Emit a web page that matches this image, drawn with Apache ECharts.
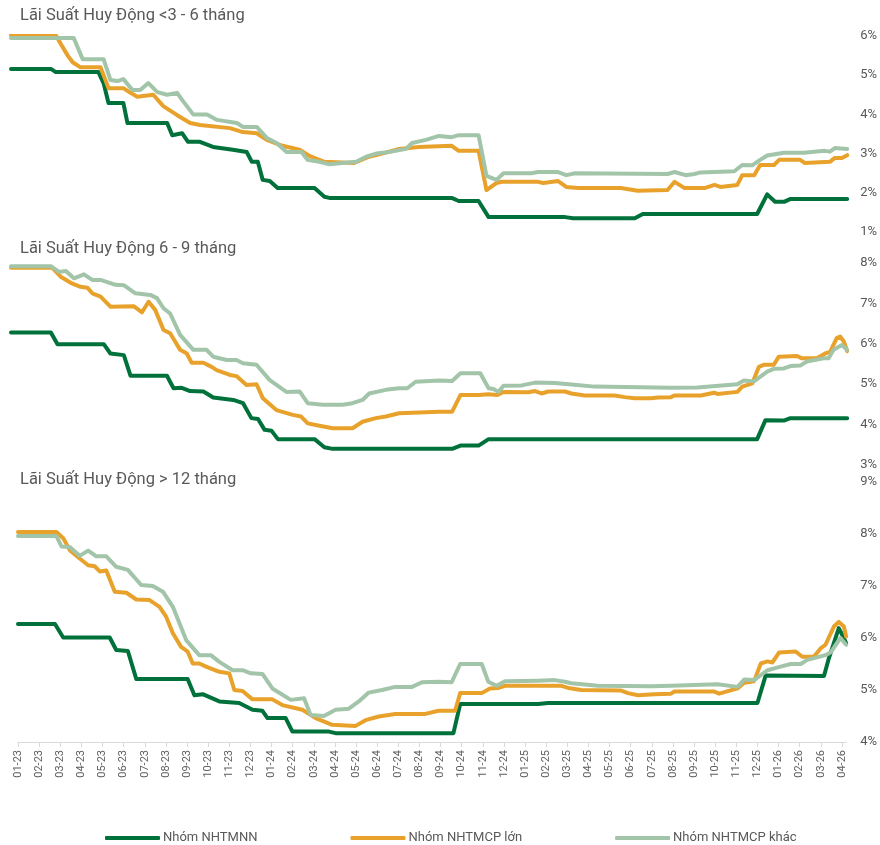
<!DOCTYPE html>
<html>
<head>
<meta charset="utf-8">
<script src="https://cdn.jsdelivr.net/npm/echarts@6/dist/echarts.min.js"></script>
<style>
  html, body { margin: 0; padding: 0; background: #ffffff; }
  #chart { width: 880px; height: 845px; }
</style>
</head>
<body>
<div id="chart"></div>
<script>
// Month tick labels (MM-YY); x positions are months since 01-23
const monthLabels = [
  '01-23','02-23','03-23','04-23','05-23','06-23','07-23','08-23','09-23','10-23','11-23','12-23',
  '01-24','02-24','03-24','04-24','05-24','06-24','07-24','08-24','09-24','10-24','11-24','12-24',
  '01-25','02-25','03-25','04-25','05-25','06-25','07-25','08-25','09-25','10-25','11-25','12-25',
  '01-26','02-26','03-26','04-26'
];

const seriesNames = ['Nhóm NHTMNN', 'Nhóm NHTMCP lớn', 'Nhóm NHTMCP khác'];

const panelTitles = [
  'Lãi Suất Huy Động <3 - 6 tháng',
  'Lãi Suất Huy Động 6 - 9 tháng',
  'Lãi Suất Huy Động > 12 tháng'
];

// ---- Kỳ hạn <3 - 6 tháng: [month, rate %]
const short_nn = [[0,5.16],[1.87,5.16],[2.10,5.08],[4.10,5.08],[4.34,4.80],[4.57,4.29],[5.27,4.29],[5.46,3.78],[7.32,3.78],[7.56,3.47],[8.02,3.52],[8.30,3.30],[8.86,3.30],[9.47,3.17],[10.40,3.10],[11.05,3.04],[11.29,2.79],[11.57,2.79],[11.80,2.33],[12.13,2.30],[12.50,2.12],[14.23,2.12],[14.69,1.90],[14.93,1.87],[20.66,1.87],[20.99,1.79],[21.92,1.79],[22.39,1.38],[25.98,1.38],[26.35,1.35],[29.24,1.35],[29.62,1.46],[34.98,1.46],[35.45,1.96],[35.82,1.77],[36.24,1.77],[36.52,1.84],[39.2,1.84]];
const short_lon = [[0,6.02],[2.10,6.02],[2.33,5.80],[2.66,5.50],[2.89,5.33],[3.26,5.20],[4.20,5.20],[4.57,4.67],[5.27,4.67],[5.60,4.55],[5.92,4.45],[6.67,4.50],[7.14,4.21],[7.79,3.98],[8.40,3.78],[8.86,3.73],[10.26,3.65],[10.87,3.55],[11.52,3.52],[11.99,3.35],[12.73,3.20],[13.53,3.10],[13.99,2.94],[14.69,2.79],[16.09,2.76],[16.79,2.92],[17.40,3.00],[18.19,3.12],[19.12,3.17],[20.66,3.20],[20.99,3.07],[21.92,3.07],[22.29,2.07],[22.76,2.25],[23.00,2.28],[24.72,2.28],[24.95,2.25],[25.65,2.30],[26.03,2.15],[26.59,2.12],[28.59,2.12],[29.38,2.05],[30.78,2.07],[31.11,2.28],[31.58,2.12],[32.51,2.12],[32.98,2.20],[33.26,2.15],[34.05,2.20],[34.28,2.45],[34.84,2.45],[35.12,2.71],[35.77,2.71],[36.01,2.84],[36.99,2.84],[37.22,2.76],[38.39,2.79],[38.62,2.89],[38.95,2.89],[39.2,2.96]];
const short_khac = [[0,5.95],[2.94,5.95],[3.36,5.41],[4.34,5.41],[4.66,4.88],[4.99,4.85],[5.27,4.90],[5.69,4.62],[6.06,4.62],[6.44,4.80],[6.86,4.57],[7.32,4.50],[7.79,4.55],[8.02,4.37],[8.54,4.00],[9.19,4.00],[9.66,3.86],[10.59,3.78],[10.87,3.68],[11.52,3.68],[11.99,3.40],[12.45,3.27],[12.92,3.04],[13.62,3.04],[13.90,2.84],[14.46,2.79],[14.93,2.73],[15.53,2.76],[16.18,2.79],[16.65,2.92],[17.12,3.00],[17.72,3.04],[18.52,3.12],[18.80,3.27],[19.45,3.35],[20.06,3.45],[20.66,3.42],[20.99,3.47],[21.92,3.47],[22.29,2.43],[22.76,2.33],[23.09,2.50],[24.39,2.50],[24.72,2.53],[25.65,2.53],[26.03,2.45],[26.45,2.50],[30.78,2.48],[31.11,2.53],[31.62,2.45],[32.04,2.48],[32.32,2.52],[33.91,2.55],[34.28,2.71],[34.75,2.70],[35.12,2.84],[35.45,2.95],[36.24,3.02],[37.17,3.02],[38.15,3.07],[38.39,3.05],[38.62,3.14],[39.2,3.12]];

// ---- Kỳ hạn 6 - 9 tháng
const mid_nn = [[0,6.28],[1.87,6.28],[2.18,5.99],[4.35,5.99],[4.66,5.76],[5.29,5.72],[5.60,5.21],[7.31,5.21],[7.62,4.90],[8.00,4.91],[8.40,4.83],[9.02,4.82],[9.48,4.67],[10.42,4.61],[10.88,4.53],[11.27,4.16],[11.58,4.14],[11.89,3.87],[12.21,3.85],[12.51,3.64],[14.23,3.64],[14.69,3.44],[15.08,3.40],[20.68,3.40],[21.07,3.48],[21.92,3.48],[22.39,3.64],[34.98,3.64],[35.37,4.11],[36.23,4.10],[36.54,4.16],[39.2,4.16]];
const mid_lon = [[0,7.88],[1.94,7.88],[2.33,7.66],[2.80,7.51],[3.26,7.41],[3.58,7.39],[3.81,7.25],[4.20,7.17],[4.66,6.92],[5.75,6.93],[6.14,6.78],[6.45,7.04],[6.76,6.84],[7.15,6.34],[7.46,6.26],[7.93,5.85],[8.24,5.76],[8.47,5.53],[9.02,5.53],[9.41,5.43],[9.64,5.35],[10.26,5.23],[10.57,5.20],[11.04,4.98],[11.51,5.00],[11.81,4.65],[12.44,4.36],[13.21,4.24],[13.60,4.20],[13.91,4.03],[14.46,3.97],[15.08,3.91],[16.01,3.91],[16.48,4.07],[17.10,4.16],[17.57,4.20],[18.19,4.28],[20.06,4.32],[20.68,4.32],[21.07,4.73],[21.92,4.73],[22.39,4.75],[22.78,4.73],[23.09,4.81],[24.25,4.80],[24.57,4.83],[24.87,4.77],[25.19,4.82],[25.97,4.82],[26.27,4.77],[26.90,4.72],[28.30,4.72],[28.77,4.68],[29.23,4.65],[30.01,4.65],[30.32,4.67],[30.94,4.68],[31.09,4.72],[32.34,4.72],[32.96,4.79],[33.12,4.76],[34.05,4.81],[34.28,4.94],[34.75,5.02],[35.06,5.43],[35.29,5.48],[35.76,5.48],[35.99,5.68],[36.85,5.70],[37.08,5.64],[37.78,5.64],[38.17,5.76],[38.40,5.80],[38.71,6.14],[38.87,6.18],[39.05,6.05],[39.2,5.82]];
const mid_khac = [[0,7.92],[1.87,7.92],[2.25,7.78],[2.57,7.80],[2.95,7.62],[3.42,7.72],[3.81,7.58],[4.20,7.58],[4.90,7.46],[5.29,7.45],[5.83,7.25],[6.53,7.21],[6.84,7.13],[7.15,6.88],[7.46,6.75],[7.93,6.22],[8.55,5.85],[9.17,5.85],[9.48,5.68],[10.11,5.60],[10.57,5.60],[10.88,5.52],[11.51,5.48],[12.13,5.10],[12.91,4.81],[13.53,4.82],[13.91,4.53],[14.61,4.49],[15.55,4.49],[16.01,4.53],[16.48,4.61],[16.79,4.77],[17.57,4.86],[18.19,4.90],[18.58,4.90],[18.97,5.06],[20.06,5.09],[20.68,5.08],[21.07,5.27],[22.00,5.27],[22.39,4.90],[22.62,4.88],[22.85,4.81],[23.09,4.96],[23.94,4.97],[24.57,5.04],[25.50,5.03],[26.27,4.99],[27.36,4.94],[30.94,4.91],[32.18,4.92],[34.05,5.00],[34.36,5.09],[34.83,5.07],[35.45,5.31],[35.76,5.38],[36.23,5.39],[36.54,5.45],[37.00,5.46],[37.31,5.56],[38.09,5.64],[38.33,5.64],[38.56,5.85],[38.95,5.97],[39.2,5.85]];

// ---- Kỳ hạn > 12 tháng
const long_nn = [[0,6.27],[1.75,6.27],[2.14,6.01],[4.34,6.01],[4.65,5.77],[5.20,5.75],[5.60,5.21],[8.03,5.21],[8.35,4.90],[8.74,4.92],[9.53,4.78],[10.47,4.75],[11.10,4.62],[11.57,4.60],[11.81,4.46],[12.67,4.46],[12.99,4.20],[14.72,4.20],[15.03,4.17],[20.61,4.17],[20.93,4.73],[24.62,4.73],[25.09,4.75],[35.00,4.75],[35.39,5.28],[38.15,5.27],[38.38,5.61],[38.85,6.19],[39.09,6.00],[39.2,5.90]];
const long_lon = [[0,8.04],[1.82,8.04],[2.14,7.92],[2.45,7.69],[2.92,7.53],[3.32,7.40],[3.63,7.38],[3.87,7.28],[4.18,7.30],[4.58,6.89],[5.13,6.87],[5.60,6.74],[6.23,6.73],[6.70,6.60],[7.01,6.41],[7.33,6.09],[7.72,5.83],[8.03,5.74],[8.27,5.51],[8.58,5.51],[8.90,5.45],[9.53,5.35],[10.00,5.32],[10.24,5.00],[10.63,4.98],[11.10,4.82],[12.04,4.82],[12.51,4.71],[13.46,4.62],[14.09,4.46],[14.87,4.33],[15.98,4.31],[16.45,4.42],[17.08,4.49],[17.86,4.54],[19.28,4.54],[19.91,4.60],[20.69,4.60],[20.93,4.94],[21.95,4.94],[22.34,5.03],[22.74,5.04],[23.05,5.08],[25.72,5.08],[26.04,5.04],[26.67,5.00],[28.55,4.99],[28.87,4.94],[29.34,4.90],[30.13,4.92],[30.91,4.93],[31.07,4.97],[32.96,4.97],[33.19,4.93],[34.06,5.03],[34.37,5.14],[34.84,5.17],[35.16,5.51],[35.47,5.55],[35.71,5.53],[36.02,5.72],[36.81,5.74],[37.12,5.64],[37.67,5.64],[37.99,5.80],[38.22,5.87],[38.62,6.22],[38.85,6.31],[39.09,6.22],[39.2,6.03]];
const long_khac = [[0,7.96],[1.82,7.96],[2.06,7.76],[2.45,7.75],[2.92,7.58],[3.32,7.68],[3.71,7.57],[4.18,7.57],[4.65,7.37],[5.20,7.31],[5.83,7.02],[6.38,7.00],[6.86,6.89],[7.33,6.60],[7.96,5.96],[8.58,5.67],[9.13,5.67],[9.53,5.54],[10.16,5.38],[10.63,5.38],[11.02,5.32],[11.57,5.31],[12.04,5.03],[12.91,4.81],[13.54,4.84],[13.85,4.52],[14.48,4.50],[15.03,4.62],[15.66,4.64],[16.13,4.78],[16.60,4.95],[17.23,5.00],[17.86,5.06],[18.65,5.06],[19.12,5.15],[19.91,5.16],[20.53,5.15],[20.93,5.50],[21.95,5.50],[22.26,5.16],[22.66,5.08],[23.05,5.17],[24.62,5.18],[25.41,5.19],[25.88,5.16],[26.20,5.13],[27.45,5.08],[29.97,5.07],[30.91,5.08],[33.11,5.11],[34.06,5.06],[34.37,5.20],[34.84,5.19],[35.47,5.38],[36.10,5.45],[36.57,5.50],[37.05,5.50],[37.36,5.58],[38.22,5.67],[38.46,5.72],[38.93,6.00],[39.2,5.87]];

const colors = ['#00713a', '#e8a22b', '#a2c4a9'];
const textColor = '#595959';
const fontFamily = 'Roboto, "Noto Sans", sans-serif';
const xEnd = 39.2;

const panels = [
  { title: panelTitles[0], data: [short_nn, short_lon, short_khac], yMin: 1, yMax: 6,
    grid: { left: 11, right: 30, top: 36, height: 196 }, titleTop: 7 },
  { title: panelTitles[1], data: [mid_nn, mid_lon, mid_khac], yMin: 3, yMax: 8,
    grid: { left: 11, right: 30, top: 263, height: 202 }, titleTop: 240 },
  { title: panelTitles[2], data: [long_nn, long_lon, long_khac], yMin: 4, yMax: 9,
    grid: { left: 18, right: 31, top: 482, height: 260 }, titleTop: 471 }
];

const tickValues = monthLabels.map((_, i) => i);

const option = {
  backgroundColor: '#ffffff',
  animation: false,
  textStyle: { fontFamily: fontFamily },
  title: panels.map(p => ({
    text: p.title, left: 20, top: p.titleTop, padding: 0,
    textStyle: { fontSize: 16.5, fontWeight: 'normal', color: textColor, fontFamily: fontFamily }
  })),
  legend: {
    data: seriesNames,
    left: 105, top: 831, padding: 0,
    icon: 'roundRect', itemWidth: 55, itemHeight: 4, itemGap: 93,
    textStyle: { fontSize: 13, lineHeight: 14, color: textColor, fontFamily: fontFamily, padding: [0, 0, 0, -2] }
  },
  grid: panels.map(p => Object.assign({ containLabel: false }, p.grid)),
  xAxis: panels.map((p, i) => {
    const last = i === panels.length - 1;
    return {
      type: 'value', gridIndex: i, min: 0, max: xEnd, interval: 1,
      show: last,
      splitLine: { show: false },
      axisLine: { show: last, lineStyle: { color: '#d9d9d9', width: 1 } },
      axisTick: { show: last, customValues: tickValues, length: 5, lineStyle: { color: '#d9d9d9' } },
      axisLabel: {
        show: last, customValues: tickValues, rotate: 90, margin: 8,
        fontSize: 11, color: '#606060', fontFamily: fontFamily,
        formatter: v => monthLabels[Math.round(v)] || ''
      }
    };
  }),
  yAxis: panels.map((p, i) => ({
    type: 'value', gridIndex: i, position: 'right',
    min: p.yMin, max: p.yMax, interval: 1,
    splitLine: { show: false },
    axisLine: { show: false }, axisTick: { show: false },
    axisLabel: {
      margin: i === 2 ? 14 : 13, fontSize: 13, color: textColor, fontFamily: fontFamily,
      formatter: '{value}%'
    }
  })),
  series: []
};

panels.forEach((p, i) => {
  p.data.forEach((d, k) => {
    option.series.push({
      name: seriesNames[k], type: 'line',
      xAxisIndex: i, yAxisIndex: i,
      data: d, showSymbol: false, symbol: 'none',
      itemStyle: { color: colors[k] },
      lineStyle: { color: colors[k], width: 4, join: 'round', cap: 'round' },
      z: 2 + k
    });
  });
});

const chart = echarts.init(document.getElementById('chart'), null, { renderer: 'canvas' });
chart.setOption(option);
</script>
</body>
</html>
